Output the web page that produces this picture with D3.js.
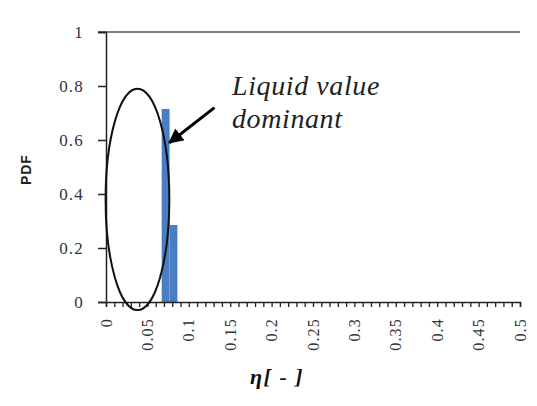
<!DOCTYPE html>
<meta charset="utf-8">
<style>
body { margin: 0; background: #fff; }
</style>
<body>
<script src="https://d3js.org/d3.v7.min.js"></script>
<script>
// histogram bins (eta bin centre, PDF)
var binCentres = [0.072, 0.0815];
var pdfValues = [0.715, 0.285];
var binWidth = 0.0095;
var yTicks = [0, 0.2, 0.4, 0.6, 0.8, 1];
var xLabelTicks = [0, 0.05, 0.1, 0.15, 0.2, 0.25, 0.3, 0.35, 0.4, 0.45, 0.5];
var xMinorTicks = d3.range(0, 51).map(i => i / 100);

var W = 537, H = 406;
var m = {left: 106, right: 17, top: 32, bottom: 104};

var svg = d3.select("body").append("svg").attr("width", W).attr("height", H);

var x = d3.scaleLinear().domain([0, 0.5]).range([m.left, W - m.right]);
var y = d3.scaleLinear().domain([0, 1]).range([H - m.bottom, m.top]);

// top line at 1
svg.append("line")
  .attr("x1", x(0) - 8).attr("x2", x(0.5))
  .attr("y1", y(1)).attr("y2", y(1))
  .attr("stroke", "#555").attr("stroke-width", 1.5);

// bars
svg.selectAll("rect.bar").data(binCentres).enter().append("rect")
  .attr("class", "bar")
  .attr("x", d => x(d - binWidth / 2))
  .attr("width", d => x(d + binWidth / 2) - x(d - binWidth / 2))
  .attr("y", (d, i) => y(pdfValues[i]))
  .attr("height", (d, i) => y(0) - y(pdfValues[i]))
  .attr("fill", "#4a7ec4");

// y axis
var yAxis = svg.append("g").attr("transform", "translate(" + m.left + ",0)")
  .call(d3.axisLeft(y).tickValues(yTicks).tickSize(8).tickPadding(14).tickFormat(d3.format("")));
yAxis.select(".domain").attr("stroke", "#222").attr("stroke-width", 1.5);
yAxis.selectAll(".tick line").attr("stroke", "#222").attr("stroke-width", 1.5);
yAxis.selectAll(".tick text")
  .attr("font-family", "Liberation Serif, serif").attr("font-size", 17)
  .attr("letter-spacing", 1.2).attr("fill", "#333").attr("dy", "0.35em");

// x axis minor ticks
var xAxis = svg.append("g").attr("transform", "translate(0," + y(0) + ")")
  .call(d3.axisBottom(x).tickValues(xMinorTicks).tickSize(5).tickFormat(""));
xAxis.select(".domain").attr("stroke", "#222").attr("stroke-width", 1.5);
xAxis.selectAll(".tick line").attr("stroke", "#222").attr("stroke-width", 1.3);

// x labels rotated
svg.selectAll("text.xl").data(xLabelTicks).enter().append("text")
  .attr("class", "xl")
  .attr("transform", d => "translate(" + x(d) + "," + (y(0) + 16) + ") rotate(-90)")
  .attr("text-anchor", "end").attr("dy", "0.35em")
  .attr("font-family", "Liberation Serif, serif").attr("font-size", 16)
  .attr("letter-spacing", 1.2).attr("fill", "#333")
  .text(d => d3.format("")(d));

// axis titles
svg.append("text")
  .attr("transform", "translate(31," + y(0.49) + ") rotate(-90)")
  .attr("text-anchor", "middle")
  .attr("font-family", "Liberation Sans, sans-serif").attr("font-size", 14).attr("font-weight", "bold")
  .attr("letter-spacing", 0.8).attr("fill", "#222").text("PDF");

svg.append("text")
  .attr("x", 250).attr("y", 384)
  .attr("font-family", "Liberation Serif, serif").attr("font-size", 22)
  .attr("font-style", "italic").attr("font-weight", "bold").attr("fill", "#111")
  .attr("letter-spacing", 1.5)
  .text("η[ - ]");

// annotation: ellipse, arrow, text
svg.append("ellipse")
  .attr("cx", x(0.038)).attr("cy", y(0.38))
  .attr("rx", x(0.0385) - x(0)).attr("ry", y(0) - y(0.41))
  .attr("fill", "none").attr("stroke", "#111").attr("stroke-width", 2);

svg.append("defs").append("marker")
  .attr("id", "ah").attr("viewBox", "0 0 10 10").attr("refX", 9).attr("refY", 5)
  .attr("markerWidth", 5).attr("markerHeight", 5).attr("orient", "auto")
  .append("path").attr("d", "M0,0 L10,5 L0,10 Z").attr("fill", "#000");

svg.append("line")
  .attr("x1", x(0.131)).attr("y1", y(0.72))
  .attr("x2", x(0.0765)).attr("y2", y(0.59))
  .attr("stroke", "#000").attr("stroke-width", 3)
  .attr("marker-end", "url(#ah)");

var note = svg.append("text")
  .attr("font-family", "Liberation Serif, serif").attr("font-size", 28)
  .attr("font-style", "italic").attr("fill", "#222").attr("letter-spacing", 0.6);
note.append("tspan").attr("x", 232).attr("y", 95).text("Liquid value");
note.append("tspan").attr("x", 232).attr("y", 128).text("dominant");
</script>
</body>
